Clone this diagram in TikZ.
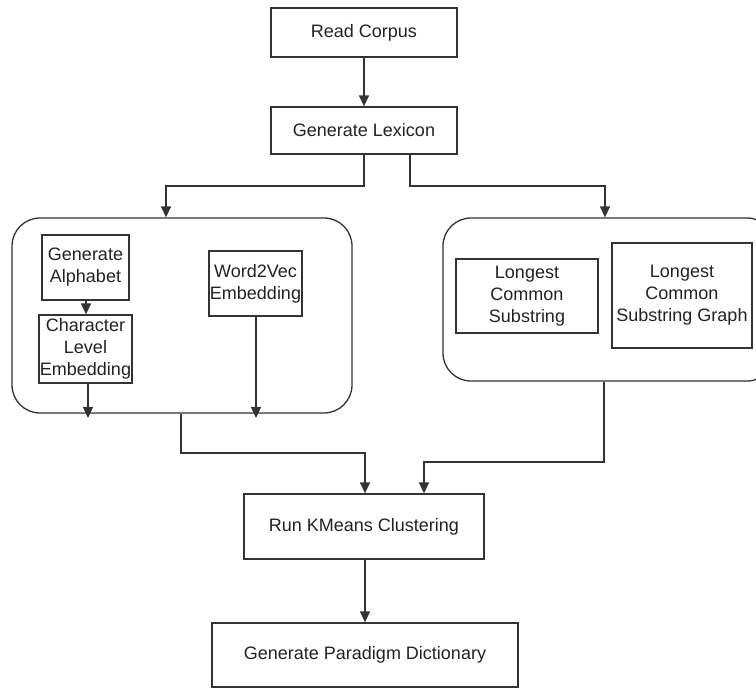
\documentclass[tikz,border=0pt]{standalone}
\usepackage{fontspec}
\setmainfont{Liberation Sans}
\usetikzlibrary{arrows.meta}
\definecolor{ln}{HTML}{333333}
\definecolor{tx}{HTML}{222222}
\begin{document}
\begin{tikzpicture}[x=1pt,y=-1pt,
  box/.style={draw=ln,line width=1.3pt,rectangle,inner sep=0pt,align=center,text=tx,font=\fontsize{18}{22}\selectfont},
  cont/.style={draw=ln,line width=1.3pt,rectangle,rounded corners=28pt,inner sep=0pt},
  arr/.style={draw=ln,line width=1.3pt,-{Triangle[width=10pt,length=11pt]}}]
\useasboundingbox (0,0) rectangle (756,688);
\node[box,minimum width=186pt,minimum height=49pt] (rc) at (364,32.5) {Read Corpus};
\node[box,minimum width=186pt,minimum height=47pt] (gl) at (364,130.5) {Generate Lexicon};
\node[cont,minimum width=340pt,minimum height=195pt] (lc) at (182,315.5) {};
\node[cont,minimum width=332pt,minimum height=163pt] (rcn) at (609,299.5) {};
\node[box,minimum width=87pt,minimum height=65pt] (ga) at (85.5,267.5) {Generate\\Alphabet};
\node[box,minimum width=93pt,minimum height=68pt] (cle) at (85.5,349) {Character\\Level\\Embedding};
\node[box,minimum width=93pt,minimum height=65pt] (w2v) at (255.5,283.5) {Word2Vec\\Embedding};
\node[box,minimum width=142pt,minimum height=74pt] (lcs) at (527,296) {Longest\\Common\\Substring};
\node[box,minimum width=140pt,minimum height=105pt] (lcsg) at (682,295.5) {Longest\\Common\\Substring Graph};
\node[box,minimum width=240pt,minimum height=65pt] (km) at (364,526.5) {Run KMeans Clustering};
\node[box,minimum width=306pt,minimum height=64pt] (pd) at (365,655) {Generate Paradigm Dictionary};
\coordinate (lbend) at (166,186);
\coordinate (rbend) at (605,186);
\coordinate (cleend) at (88,418);
\coordinate (w2vend) at (256,418);
\coordinate (lout) at (181,453);
\coordinate (rout) at (604,462);
\draw[arr] (rc) -- (gl);
\draw[arr] (gl.south) |- (lbend) -- (lbend |- lc.north);
\draw[arr] ([xshift=46pt]gl.south) |- (rbend) -- (rbend |- rcn.north);
\draw[arr] ([xshift=0.5pt]ga.south) -- ([xshift=0.5pt]cle.north);
\draw[arr] (cle.south -| cleend) -- (cleend);
\draw[arr] (w2v.south -| w2vend) -- (w2vend);
\draw[arr] (lout |- lc.south) -- (lout) -| ([xshift=1pt]km.north);
\draw[arr] (rout |- rcn.south) -- (rout) -| ([xshift=60pt]km.north);
\draw[arr] ([xshift=1pt]km.south) -- (pd.north);
\end{tikzpicture}
\end{document}
